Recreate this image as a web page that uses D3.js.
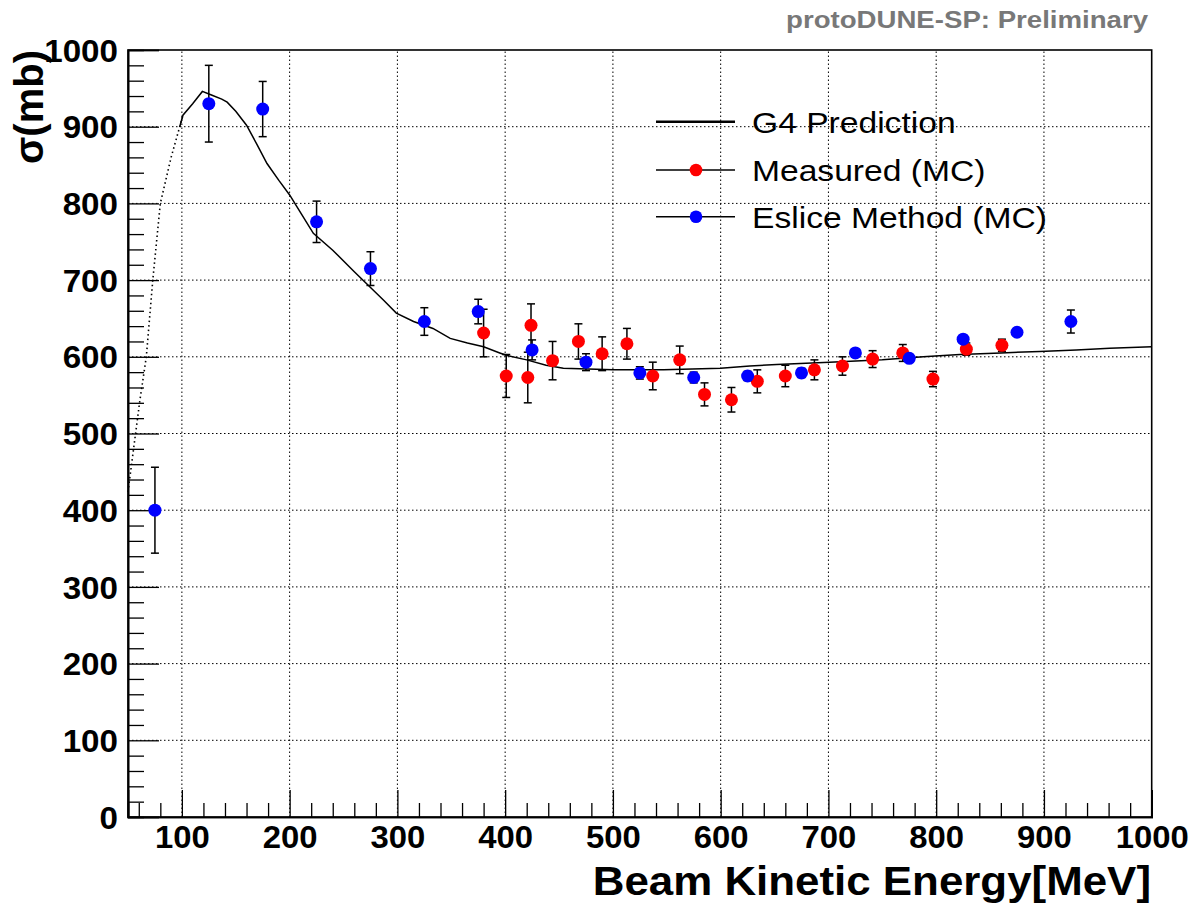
<!DOCTYPE html>
<html><head><meta charset="utf-8">
<script src="https://cdn.jsdelivr.net/npm/d3@7"></script>
<style>
body{margin:0;background:#fff;}
svg{display:block;font-family:"Liberation Sans",Arial,Helvetica,sans-serif;}
</style></head>
<body><svg id="c" width="1194" height="906"></svg>
<script>
// ---- data ----
const g4Energy = [50,55,61,67,73,80,90,98,101,110,119,128,137,142,150,160,170,179,190,200,211,222,240,260,287,299,315,333,349,365,380,395,401,420,438,454,500,547,600,627,652,701,750,788,822,860,896,930,961,1000];
const g4Sigma  = [424,478,543,600,700,800,860,900,915,930,946,941,936,932,920,902,876,852,830,811,786,761,739,711,674,657,646,637,624,618,613,605,602,596,589,585,583,583,585,588,590,593,596,600,603,605,607,609,611,613];

const measEnergy = [380,401,421,424,444,468,490,513,537,562,585,610,634,660,687,713,741,769,797,828,861];
const measSigma  = [631,575,573,641,595,620,604,617,575,596,551,544,568,575,583,588,597,605,571,610,615];
const measErr    = [31,28,33,28,25,23,22,20,18,18,15,16,15,14,13,12,11,11,10,8,8];

const esliceEnergy = [75,125,175,225,275,325,375,425,475,525,575,625,675,725,775,825,875,925];
const esliceSigma  = [400,930,923,776,715,646,659,609,593,579,573,575,579,605,598,623,632,646];
const esliceErr    = [56,50,36,27,22,18,16,13,11,8,7,6,6,5,5,5,5,15];

const xTicks = [100,200,300,400,500,600,700,800,900,1000];
const yTicks = [0,100,200,300,400,500,600,700,800,900,1000];
const legendLabels = ["G4 Prediction","Measured (MC)","Eslice Method (MC)"];
const titleText = "protoDUNE-SP: Preliminary";
const xLabel = "Beam Kinetic Energy[MeV]";
const yLabel = "σ(mb)";

// ---- layout ----
const L=128, R=1151.7, T=50, B=817;
const svg = d3.select("#c");
const x = d3.scaleLinear().domain([50,1000]).range([L,R]);
const y = d3.scaleLinear().domain([0,1000]).range([B,T]);

function widen(sel, f){
  sel.each(function(){
    const w = this.getComputedTextLength();
    d3.select(this).attr("textLength", w*f).attr("lengthAdjust","spacingAndGlyphs");
  });
}

// grid
const grid = svg.append("g").attr("stroke","#000").attr("stroke-width",1).attr("stroke-dasharray","1.5,2.5");
grid.selectAll(".gx").data(xTicks.filter(d=>d<1000)).enter().append("line")
  .attr("x1",d=>x(d)).attr("x2",d=>x(d)).attr("y1",B).attr("y2",T);
grid.selectAll(".gy").data(yTicks.filter(d=>d>0&&d<1000)).enter().append("line")
  .attr("x1",L).attr("x2",R).attr("y1",d=>y(d)).attr("y2",d=>y(d));

// frame
svg.append("rect").attr("x",L).attr("y",T).attr("width",R-L).attr("height",B-T)
  .attr("fill","none").attr("stroke","#000").attr("stroke-width",1.6);

// axes
const minorX = d3.range(60,1000,20).filter(d=>d%100!==0);
const minorY = d3.range(20,1000,20).filter(d=>d%100!==0);

const xAx = svg.append("g").attr("transform",`translate(0,${B})`)
  .call(d3.axisBottom(x).tickValues(xTicks).tickSize(-27).tickPadding(9).tickFormat(d3.format("d")));
const xMin = svg.append("g").attr("transform",`translate(0,${B})`)
  .call(d3.axisBottom(x).tickValues(minorX).tickSize(-14).tickFormat(""));
const yAx = svg.append("g").attr("transform",`translate(${L},0)`)
  .call(d3.axisLeft(y).tickValues(yTicks).tickSize(-31).tickPadding(10).tickFormat(d3.format("d")));
const yMin = svg.append("g").attr("transform",`translate(${L},0)`)
  .call(d3.axisLeft(y).tickValues(minorY).tickSize(-16).tickFormat(""));
[xAx,xMin,yAx,yMin].forEach(g=>{
  g.select(".domain").attr("stroke","#000").attr("stroke-width",1.6);
  g.selectAll(".tick line").attr("stroke","#000").attr("stroke-width",1.3);
});
xAx.selectAll("text").attr("font-size",31).attr("font-weight","bold").attr("fill","#000")
  .attr("font-family","Liberation Sans, Arial, sans-serif");
yAx.selectAll("text").attr("font-size",31).attr("font-weight","bold").attr("fill","#000")
  .attr("font-family","Liberation Sans, Arial, sans-serif").attr("dy","0.36em");
widen(xAx.selectAll("text"),1.06);
widen(yAx.selectAll("text"),1.07);

// G4 curve
const pts = g4Energy.map((e,i)=>[e,g4Sigma[i]]);
const line = d3.line().x(d=>x(d[0])).y(d=>y(d[1]));
svg.append("path").datum(pts.filter(d=>d[0]<=101)).attr("d",line)
  .attr("fill","none").attr("stroke","#000").attr("stroke-width",1.6).attr("stroke-dasharray","1.5,3");
svg.append("path").datum(pts.filter(d=>d[0]>=98)).attr("d",line)
  .attr("fill","none").attr("stroke","#000").attr("stroke-width",1.5);

// error-bar series
function series(E,S,Er,color){
  const g = svg.append("g");
  const data = E.map((e,i)=>({e,s:S[i],er:Er[i]}));
  const eg = g.append("g").attr("stroke","#000").attr("stroke-width",1.5);
  data.forEach(d=>{
    eg.append("line").attr("x1",x(d.e)).attr("x2",x(d.e)).attr("y1",y(d.s+d.er)).attr("y2",y(d.s-d.er));
    eg.append("line").attr("x1",x(d.e)-4).attr("x2",x(d.e)+4).attr("y1",y(d.s+d.er)).attr("y2",y(d.s+d.er));
    eg.append("line").attr("x1",x(d.e)-4).attr("x2",x(d.e)+4).attr("y1",y(d.s-d.er)).attr("y2",y(d.s-d.er));
  });
  g.selectAll("circle").data(data).enter().append("circle")
    .attr("cx",d=>x(d.e)).attr("cy",d=>y(d.s)).attr("r",6.5).attr("fill",color);
}
series(measEnergy,measSigma,measErr,"#ff0000");
series(esliceEnergy,esliceSigma,esliceErr,"#0000ff");

// legend
const legY=[121.7,170,216.7];
const lg = svg.append("g");
lg.append("line").attr("x1",656).attr("x2",735).attr("y1",legY[0]).attr("y2",legY[0]).attr("stroke","#000").attr("stroke-width",2.5);
[1,2].forEach(i=>{
  lg.append("line").attr("x1",656).attr("x2",735).attr("y1",legY[i]).attr("y2",legY[i]).attr("stroke","#000").attr("stroke-width",1.5);
  lg.append("circle").attr("cx",696).attr("cy",legY[i]).attr("r",6.3).attr("fill",i===1?"#ff0000":"#0000ff");
});
const legTexts = lg.selectAll(".lt").data(legendLabels).enter().append("text")
  .attr("x",752).attr("y",(d,i)=>legY[i]+11).attr("font-size",30).attr("fill","#000").text(d=>d);
widen(legTexts,1.12);

// titles
const tt = svg.append("text").attr("x",1148).attr("y",28).attr("text-anchor","end").attr("font-size",23)
  .attr("font-weight","bold").attr("fill","#787878").text(titleText);
widen(tt,1.2);
const xl = svg.append("text").attr("x",1151).attr("y",895).attr("text-anchor","end").attr("font-size",41)
  .attr("font-weight","bold").attr("fill","#000").text(xLabel);
widen(xl,1.07);
svg.append("text").attr("transform","translate(43,50) rotate(-90)").attr("text-anchor","end")
  .attr("font-size",40).attr("font-weight","bold").attr("fill","#000").text(yLabel);
</script></body></html>
